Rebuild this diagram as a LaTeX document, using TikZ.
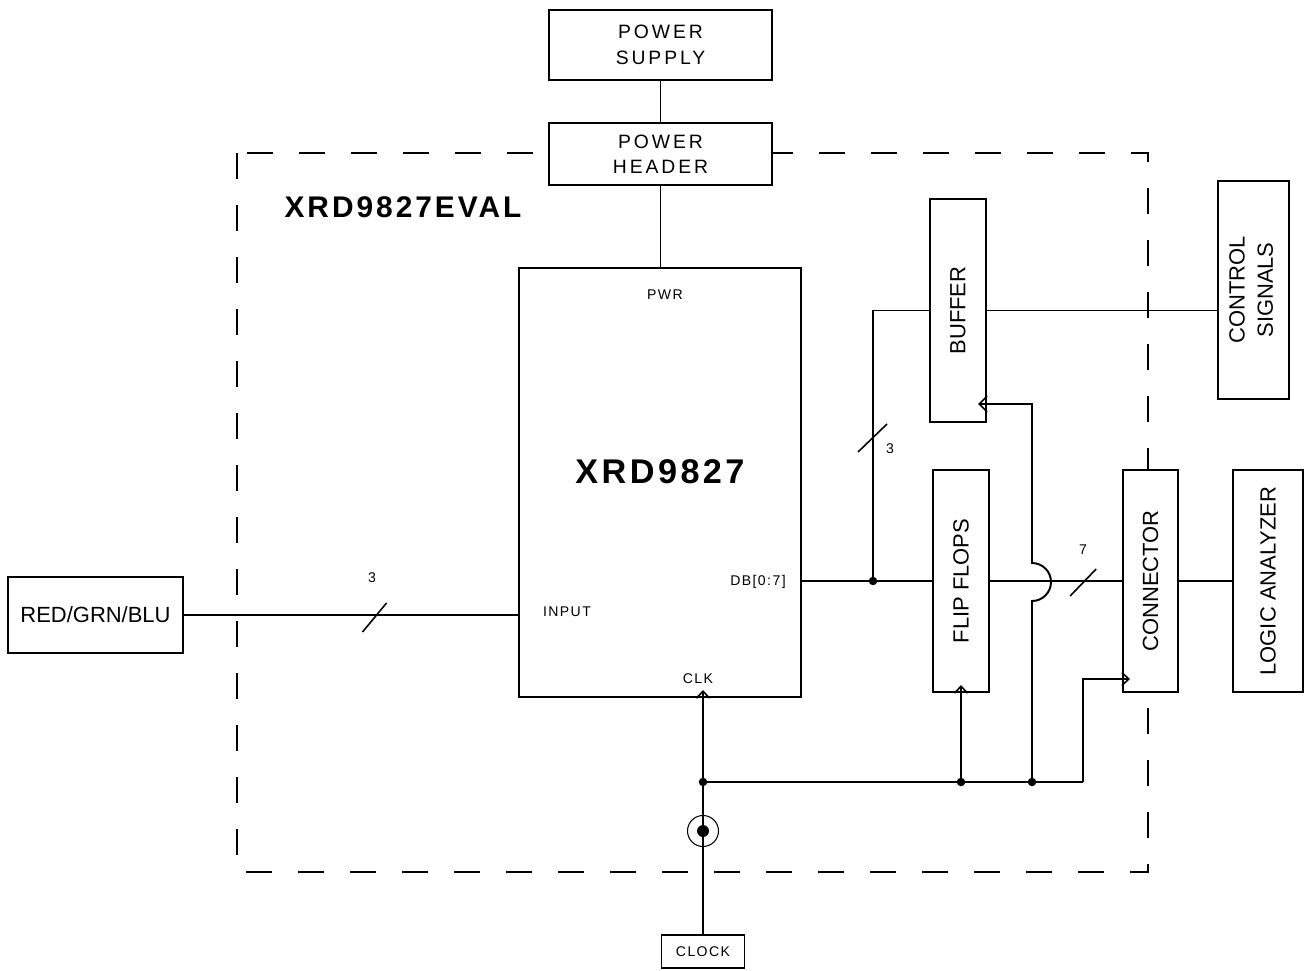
\documentclass[tikz,border=0pt]{standalone}
\usepackage{fontspec}
\setmainfont{Liberation Sans}
\usetikzlibrary{arrows.meta}

\begin{document}
\begin{tikzpicture}[x=0.2mm, y=-0.2mm,
  box/.style={draw, line width=0.7pt, fill=white, inner sep=0pt, outer sep=0pt, align=center},
  wire/.style={line width=1.1pt},
  clkin/.style={-{Straight Barb[length=1.4mm,width=2.6mm,line width=0.9pt]}, shorten >=-1.4mm},
  dot/.style={circle, fill, inner sep=0pt, minimum size=1.7mm},
  lbl/.style={font=\fontsize{8}{9}\selectfont\addfontfeature{LetterSpace=10}},
  pw/.style={font=\fontsize{11}{14.5}\selectfont\addfontfeature{LetterSpace=15}},
  big/.style={font=\fontsize{12.5}{15}\selectfont}]
  \useasboundingbox (0,0) rectangle (1307,970);

  % board outline
  \draw[line width=0.9pt, dash pattern=on 5.2mm off 5.2mm] (237,153) rectangle (1148,872);
  \node[font=\fontsize{17}{20}\selectfont\bfseries\addfontfeature{LetterSpace=10}] (eval) at (403,207) {XRD9827EVAL};

  % blocks
  \node[box, pw, minimum width=44.6mm, minimum height=14mm] (psu) at (660.5,45) {POWER\\SUPPLY};
  \node[box, pw, minimum width=44.6mm, minimum height=12.4mm] (hdr) at (660.5,154) {POWER\\HEADER};
  \node[box, minimum width=56.4mm, minimum height=85.8mm] (chip) at (660,482.5) {};
  \node[box, big, minimum width=35mm, minimum height=15.2mm] (rgb) at (95.5,615) {RED/GRN/BLU};
  \node[box, big, minimum width=11.2mm, minimum height=44.6mm] (buf) at (958,310.5) {\rotatebox{90}{BUFFER}};
  \node[box, big, minimum width=14.2mm, minimum height=43.6mm] (ctrl) at (1253.5,290) {\rotatebox{90}{\begin{tabular}{@{}c@{}}CONTROL\\[1pt]SIGNALS\end{tabular}}};
  \node[box, big, minimum width=11.2mm, minimum height=44.4mm] (ff) at (961,581) {\rotatebox{90}{FLIP FLOPS}};
  \node[box, big, minimum width=11mm, minimum height=44.4mm] (conn) at (1150.5,581) {\rotatebox{90}{CONNECTOR}};
  \node[box, big, minimum width=14mm, minimum height=44.4mm] (la) at (1268,581) {\rotatebox{90}{LOGIC ANALYZER}};
  \node[box, lbl, minimum width=16.6mm, minimum height=6.6mm] (clock) at (703,951.5) {CLOCK};

  % chip pins
  \node[lbl] (pwr) at (665,295) {PWR};
  \node[font=\fontsize{19.5}{22}\selectfont\bfseries\addfontfeature{LetterSpace=10}] (name) at (660,472) {XRD9827};
  \node[lbl] (input) at (567,612) {INPUT};
  \node[lbl] (dbus) at (758,582) {DB[0:7]};
  \node[lbl] (clk) at (698,679) {CLK};

  % power
  \draw[wire] (psu) -- (hdr);
  \draw[wire] (hdr.south) -- (hdr.south |- chip.north);

  % video input
  \draw[wire] (rgb.east) -- coordinate[pos=0.57] (s1) (rgb.east -| chip.west);
  \draw[line width=0.9pt] ([shift={(-12,17)}]s1) -- ([shift={(12,-12)}]s1);
  \node[lbl] at (372,578) {3};

  % data bus
  \coordinate (j1) at (873,581);
  \draw[wire] (chip.east |- ff.west) -- (ff.west);
  \draw[wire] (j1) |- (buf.west);
  \coordinate (s2) at (873,438);
  \draw[line width=0.9pt] ([shift={(-15,14)}]s2) -- ([shift={(14,-14)}]s2);
  \node[lbl] at (890,449) {3};
  \node[dot] at (j1) {};
  \draw[wire] (ff.east) -- coordinate[pos=0.71] (s3) (conn.west);
  \draw[line width=0.9pt] ([shift={(-14,15)}]s3) -- ([shift={(12,-12)}]s3);
  \node[lbl] at (1083,550) {7};
  \draw[wire] (conn.east) -- (la.west);
  \draw[wire] (buf.east) -- (buf.east -| ctrl.west);

  % clock
  \coordinate (cj) at (703,782);
  \coordinate (hop) at (1032,782);
  \coordinate (cnx) at (1083,782);
  \draw[wire, clkin] (clock.north) -- (clock.north |- chip.south);
  \draw[wire] (cj) -- (cnx);
  \draw[wire, clkin] (cnx) |- ([yshift=-19.6mm]conn.west);
  \draw[wire, clkin] (ff.south |- cj) -- (ff.south);
  \draw[wire, -{Straight Barb[length=1.6mm,width=3.2mm,line width=0.9pt]}, shorten >=-1.6mm]
    (hop) -- (1032,601) arc[start angle=90, end angle=-90, radius=19] -- (1032,404) -- ([yshift=-18.7mm]buf.east);
  \node[dot] at (cj) {};
  \node[dot] at (ff.south |- cj) {};
  \node[dot] at (hop) {};

  % coax jack
  \draw[line width=0.6pt] (703,831) circle[radius=15.5];
  \fill (703,831) circle[radius=6];
\end{tikzpicture}
\end{document}
